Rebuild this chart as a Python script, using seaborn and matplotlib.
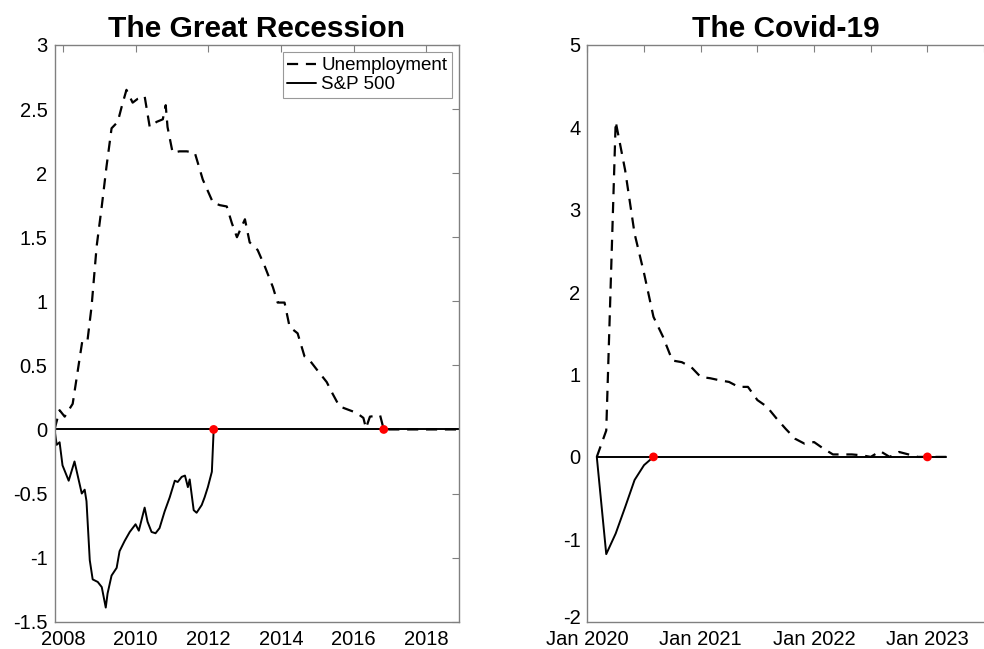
import numpy as np
import pandas as pd
import seaborn as sns
import matplotlib
matplotlib.use("Agg")
import matplotlib.pyplot as plt
import matplotlib.transforms as mtrans

# ---- Great Recession (x in decimal years) ----
gr_unemp_x = [2007.77, 2007.91, 2008.05, 2008.27, 2008.40, 2008.54, 2008.68, 2008.79,
              2008.93, 2009.07, 2009.20, 2009.34, 2009.51, 2009.62, 2009.75, 2009.92,
              2010.06, 2010.25, 2010.39, 2010.58, 2010.75, 2010.83, 2010.88, 2011.02,
              2011.21, 2011.41, 2011.63, 2011.85, 2012.13, 2012.32, 2012.51, 2012.65,
              2012.79, 2013.01, 2013.14, 2013.36, 2013.56, 2013.78, 2013.91, 2014.10,
              2014.24, 2014.46, 2014.65, 2014.79, 2014.98, 2015.26, 2015.42, 2015.61,
              2015.89, 2016.08, 2016.27, 2016.34, 2016.45, 2016.73, 2016.83, 2018.91]
gr_unemp_y = [0.0, 0.15, 0.10, 0.20, 0.44, 0.70, 0.70, 0.96,
              1.43, 1.74, 2.05, 2.35, 2.40, 2.52, 2.65, 2.55,
              2.58, 2.60, 2.36, 2.40, 2.42, 2.53, 2.36, 2.16,
              2.17, 2.17, 2.16, 1.95, 1.77, 1.75, 1.74, 1.61,
              1.50, 1.64, 1.46, 1.40, 1.27, 1.11, 0.99, 0.99,
              0.80, 0.75, 0.57, 0.54, 0.47, 0.37, 0.28, 0.18,
              0.15, 0.13, 0.09, 0.01, 0.10, 0.11, 0.0, 0.0]

gr_sp_x = [2007.77, 2007.83, 2007.91, 2007.99, 2008.16, 2008.32, 2008.52, 2008.60,
           2008.65, 2008.74, 2008.82, 2008.96, 2009.07, 2009.18, 2009.23, 2009.34,
           2009.48, 2009.56, 2009.70, 2009.84, 2010.00, 2010.09, 2010.25, 2010.33,
           2010.44, 2010.55, 2010.66, 2010.80, 2010.94, 2011.08, 2011.16, 2011.27,
           2011.36, 2011.44, 2011.49, 2011.60, 2011.68, 2011.82, 2011.90, 2011.99,
           2012.10, 2012.15]
gr_sp_y = [0.0, -0.12, -0.10, -0.28, -0.40, -0.25, -0.50, -0.47,
           -0.56, -1.02, -1.17, -1.19, -1.23, -1.39, -1.28, -1.14,
           -1.08, -0.95, -0.87, -0.80, -0.74, -0.79, -0.61, -0.72,
           -0.80, -0.81, -0.77, -0.64, -0.53, -0.40, -0.41, -0.37,
           -0.36, -0.45, -0.39, -0.63, -0.65, -0.59, -0.53, -0.45,
           -0.33, 0.0]

gr_zero_x = [2007.77, 2018.91]
gr_dots_x = [2012.15, 2016.83]

# ---- Covid-19 (x in months since Jan 2020) ----
cv_months = list(range(1, 39))
cv_unemp = [0.0, 0.32, 4.07, 3.48, 2.71, 2.23, 1.70, 1.46, 1.17, 1.15,
            1.09, 0.97, 0.955, 0.93, 0.91, 0.85, 0.85, 0.69, 0.61, 0.47,
            0.34, 0.22, 0.16, 0.18, 0.10, 0.03, 0.03, 0.03, 0.02, 0.0,
            0.07, 0.0, 0.06, 0.03, 0.0, 0.0, 0.0, 0.0]
cv_sp_months = [1, 2, 3, 4, 5, 6, 7]
cv_sp = [0.0, -1.18, -0.93, -0.61, -0.28, -0.10, 0.0]
cv_zero_x = [1, 38]
cv_dots_x = [7, 36]

cv_tick_pos = [0, 6, 12, 18, 24, 30, 36, 42]
cv_tick_lab = ["Jan 2020", "", "Jan 2021", "", "Jan 2022", "", "Jan 2023", ""]

sns.set_style("white")
plt.rcParams['font.family'] = ['Liberation Sans', 'DejaVu Sans']
plt.rcParams['axes.unicode_minus'] = False
plt.rcParams['text.color'] = 'black'

fig = plt.figure(figsize=(9.84, 6.49), dpi=100)
ax1 = fig.add_axes([0.0554, 0.0421, 0.4114, 0.8886])
ax2 = fig.add_axes([0.5969, 0.0421, 0.4032, 0.8886])

spine_col = "#808080"
dash = (0, (5, 3.5))


def style_axes(ax):
    for s in ax.spines.values():
        s.set_color(spine_col)
        s.set_linewidth(1.0)
    ax.tick_params(direction="in", length=5, width=0.8, color=spine_col,
                   labelcolor="black", top=True, right=True, labelsize=14.5)
    ax.tick_params(axis="x", pad=6)
    ax.tick_params(axis="y", pad=5)


# left panel
sns.lineplot(x=gr_zero_x, y=[0, 0], ax=ax1, color="black", linewidth=1.4)
sns.lineplot(x=gr_unemp_x, y=gr_unemp_y, ax=ax1, color="black", linewidth=1.6,
             linestyle=dash, label="Unemployment")
sns.lineplot(x=gr_sp_x, y=gr_sp_y, ax=ax1, color="black", linewidth=1.4, label="S&P 500")
sns.scatterplot(x=gr_dots_x, y=[0, 0], ax=ax1, color="red", s=40, edgecolor="none", zorder=5)
ax1.set_xlim(2007.77, 2018.91)
ax1.set_ylim(-1.5, 3)
ax1.set_xticks(np.arange(2008, 2019, 2))
ax1.set_yticks(np.arange(-1.5, 3.01, 0.5))
ax1.set_yticklabels(["-1.5", "-1", "-0.5", "0", "0.5", "1", "1.5", "2", "2.5", "3"])
ax1.set_title("The Great Recession", fontsize=21.5, fontweight="bold", pad=6, color="black")
style_axes(ax1)
leg = ax1.legend(loc="upper right", fontsize=13.5, handlelength=1.5, handletextpad=0.3,
                 borderpad=0.25, labelspacing=0.1, frameon=True, fancybox=False,
                 borderaxespad=0.4)
leg.get_frame().set_edgecolor(spine_col)
leg.get_frame().set_linewidth(0.8)

# right panel
sns.lineplot(x=cv_zero_x, y=[0, 0], ax=ax2, color="black", linewidth=1.4)
sns.lineplot(x=cv_months, y=cv_unemp, ax=ax2, color="black", linewidth=1.6,
             linestyle=dash)
sns.lineplot(x=cv_sp_months, y=cv_sp, ax=ax2, color="black", linewidth=1.4)
sns.scatterplot(x=cv_dots_x, y=[0, 0], ax=ax2, color="red", s=40, edgecolor="none", zorder=5)
ax2.set_xlim(0, 41.2)
ax2.set_ylim(-2, 5)
ax2.set_xticks(cv_tick_pos)
ax2.set_xticklabels(cv_tick_lab)
ax2.set_yticks(range(-2, 6))
ax2.set_title("The Covid-19", fontsize=21.5, fontweight="bold", pad=6, color="black")
style_axes(ax2)
ax2.spines["right"].set_visible(False)
ax2.tick_params(right=False)
if ax2.get_legend():
    ax2.get_legend().remove()

# nudge the lowest y label a little up so it clears "Jan 2020"
low = ax2.yaxis.get_major_ticks()[0].label1
low.set_transform(low.get_transform() + mtrans.ScaledTranslation(0, 4 / 72, fig.dpi_scale_trans))

fig.savefig("out.png", dpi=100)
